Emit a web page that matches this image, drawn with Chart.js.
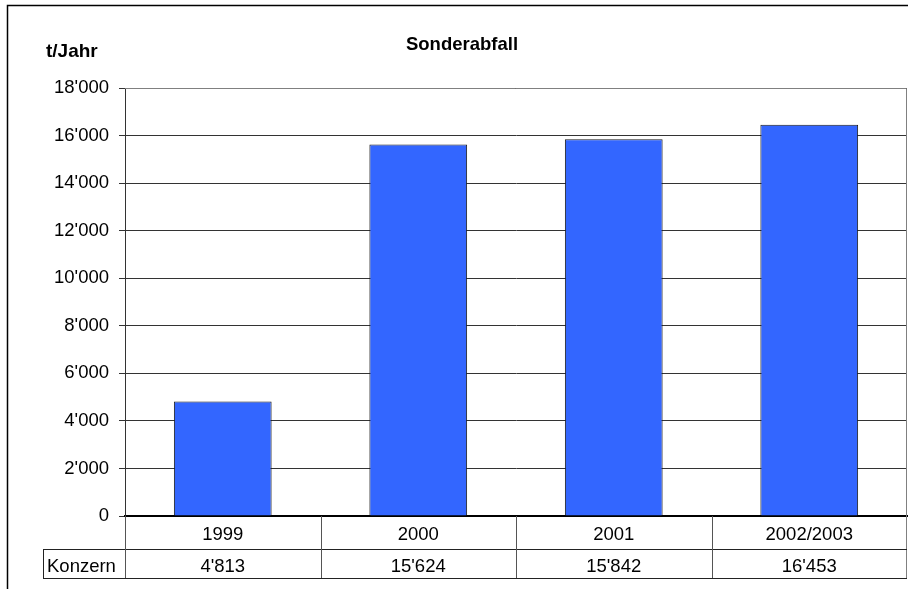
<!DOCTYPE html>
<html>
<head>
<meta charset="utf-8">
<title>Sonderabfall</title>
<script src="https://cdn.jsdelivr.net/npm/chart.js@4"></script>
<style>
  html, body { margin: 0; padding: 0; background: #fff; }
  #wrap { width: 908px; height: 589px; }
</style>
</head>
<body>
<div id="wrap"><canvas id="abfallChart" width="908" height="589"></canvas></div>
<script>
// Data
const categories = ['1999', '2000', '2001', '2002/2003'];
const seriesName = 'Konzern';
const values = [4813, 15624, 15842, 16453];
const yTicks = [0, 2000, 4000, 6000, 8000, 10000, 12000, 14000, 16000, 18000];

const chartTitle = 'Sonderabfall';
const unitLabel = 't/Jahr';
const fontFamily = '"Liberation Sans", Arial, Helvetica, sans-serif';

// 18000 -> 18'000
function fmt(v) {
    return String(v).replace(/\B(?=(\d{3})+(?!\d))/g, "'");
}

// Draws the frame, title, unit label and the data table under the x axis
const tablePlugin = {
    id: 'tablePlugin',
    afterDraw(chart) {
        const ctx = chart.ctx;
        const area = chart.chartArea;
        const x = chart.scales.x;
        const rowTop = area.bottom;
        const rowMid = 549;
        const rowBottom = 578;
        const labelLeft = 43;

        ctx.save();

        // outer frame (left and top edge)
        ctx.strokeStyle = '#000';
        ctx.lineWidth = 1.5;
        ctx.beginPath();
        ctx.moveTo(7.5, 589);
        ctx.lineTo(7.5, 5.5);
        ctx.lineTo(908, 5.5);
        ctx.stroke();

        // plot border top and right
        ctx.strokeStyle = '#808080';
        ctx.lineWidth = 1;
        ctx.beginPath();
        ctx.moveTo(area.left, area.top + 0.5);
        ctx.lineTo(area.right - 0.5, area.top + 0.5);
        ctx.lineTo(area.right - 0.5, rowBottom);
        ctx.stroke();

        // table lines
        ctx.strokeStyle = '#222';
        ctx.beginPath();
        ctx.moveTo(labelLeft, rowMid + 0.5);
        ctx.lineTo(area.right, rowMid + 0.5);
        ctx.moveTo(labelLeft, rowBottom + 0.5);
        ctx.lineTo(area.right, rowBottom + 0.5);
        ctx.moveTo(labelLeft + 0.5, rowMid);
        ctx.lineTo(labelLeft + 0.5, rowBottom);
        ctx.stroke();

        // vertical separators between categories
        ctx.strokeStyle = '#555';
        ctx.beginPath();
        const step = (x.right - x.left) / categories.length;
        for (let i = 0; i < categories.length; i++) {
            const px = Math.round(x.getPixelForValue(i) - step / 2) + 0.5;
            ctx.moveTo(px, rowTop);
            ctx.lineTo(px, rowBottom);
        }
        ctx.stroke();

        // value row
        ctx.fillStyle = '#000';
        ctx.font = '18.5px ' + fontFamily;
        ctx.textBaseline = 'middle';
        ctx.textAlign = 'left';
        ctx.fillText(seriesName, 47, (rowMid + rowBottom) / 2 + 3);
        ctx.textAlign = 'center';
        values.forEach((v, i) => {
            ctx.fillText(fmt(v), x.getPixelForValue(i), (rowMid + rowBottom) / 2 + 3);
        });

        // title and unit label
        ctx.font = 'bold 18.5px ' + fontFamily;
        ctx.fillText(chartTitle, 462, 45);
        ctx.textAlign = 'left';
        ctx.font = 'bold 19px ' + fontFamily;
        ctx.fillText(unitLabel, 46, 52);

        ctx.restore();
    }
};

const ctx = document.getElementById('abfallChart').getContext('2d');
new Chart(ctx, {
    type: 'bar',
    data: {
        labels: categories,
        datasets: [{
            label: seriesName,
            data: values,
            backgroundColor: '#3366FF',
            borderColor: '#1a1a1a',
            borderWidth: 1,
            barPercentage: 0.5,
            categoryPercentage: 1.0
        }]
    },
    options: {
        responsive: false,
        animation: false,
        layout: { padding: { left: 0, right: 1, top: 88, bottom: 0 } },
        plugins: {
            legend: { display: false },
            tooltip: { enabled: false }
        },
        scales: {
            x: {
                grid: { display: false },
                border: { display: true, color: '#000', width: 2 },
                ticks: {
                    color: '#000',
                    font: { family: fontFamily, size: 18.5 },
                    padding: 0,
                    maxRotation: 0
                },
                afterFit(scale) { scale.height = 73; }
            },
            y: {
                min: 0,
                max: 18000,
                afterBuildTicks(scale) {
                    scale.ticks = yTicks.map(v => ({ value: v }));
                },
                grid: { color: '#333', lineWidth: 1, tickLength: 6, tickColor: '#333' },
                border: { display: true, color: '#333', width: 1 },
                ticks: {
                    color: '#000',
                    font: { family: fontFamily, size: 18.5 },
                    padding: 10,
                    callback: v => fmt(v)
                },
                afterFit(scale) { scale.width = 125; }
            }
        }
    },
    plugins: [tablePlugin]
});
</script>
</body>
</html>
